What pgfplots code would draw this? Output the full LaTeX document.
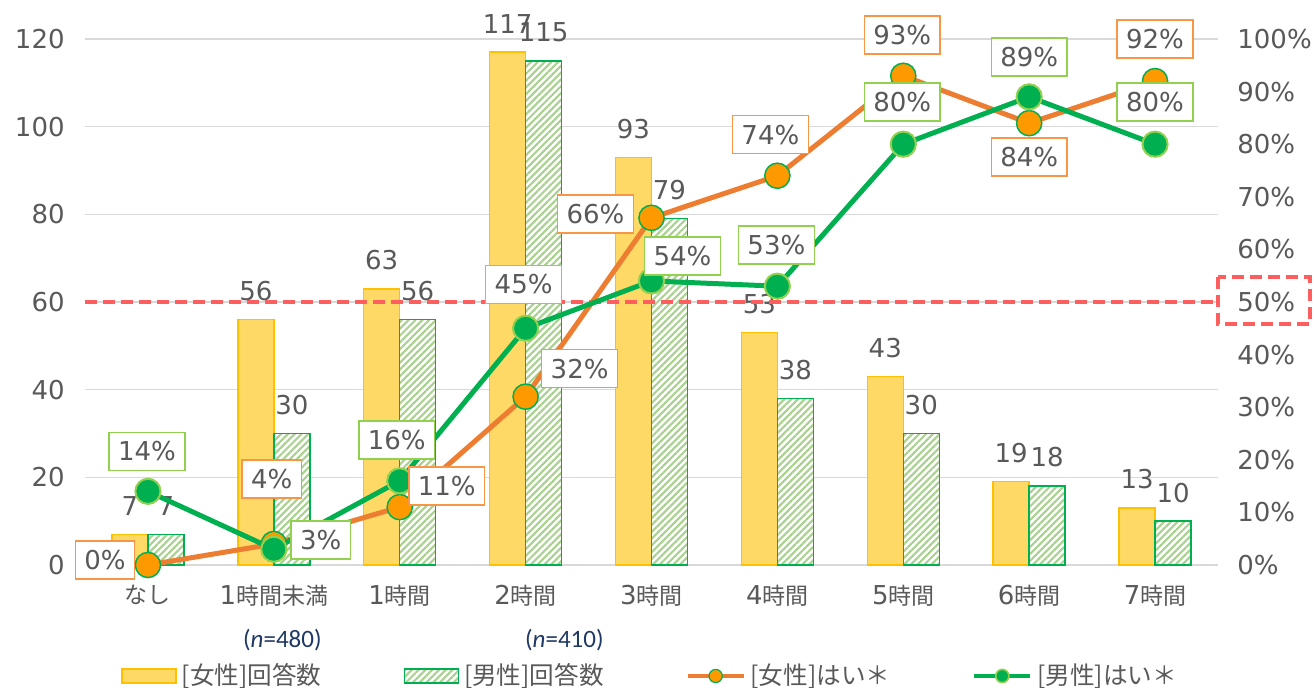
\documentclass[border=0pt]{standalone}
\usepackage{fontspec}
\setmainfont{DejaVu Sans}
\newfontfamily\jp{Noto Sans CJK JP}
\newfontfamily\calfont{Carlito}
\usepackage{pgfplots}
\usepackage{pgfplotstable}
\pgfplotsset{compat=1.18}
\usetikzlibrary{patterns.meta}

\definecolor{txt}{HTML}{595959}
\definecolor{gridc}{HTML}{D9D9D9}
\definecolor{fbar}{HTML}{FFD966}
\definecolor{fbarline}{HTML}{FFC000}
\definecolor{mbarline}{HTML}{00B050}
\definecolor{mhatch}{HTML}{A9D18E}
\definecolor{fline}{HTML}{ED7D31}
\definecolor{fmark}{HTML}{FF9900}
\definecolor{mline}{HTML}{00B050}
\definecolor{mmarkedge}{HTML}{92D050}
\definecolor{fboxc}{HTML}{F79646}
\definecolor{mboxc}{HTML}{92D050}
\definecolor{redref}{HTML}{FF5E5E}
\definecolor{navy}{HTML}{1F3864}

\newcommand\fs{\fontsize{13}{15}\selectfont}
\newcommand\J[1]{{\jp\fontsize{11.5}{14}\selectfont #1}}
\newcommand\JL[1]{{\jp\fontsize{12.3}{14}\selectfont #1}}

\pgfplotstableread{
x f m
0 7 7
1 56 30
2 63 56
3 117 115
4 93 79
5 53 38
6 43 30
7 19 18
8 13 10
}\bars

\pgfplotstableread{
x y dx dy
0 0 -21.5 2.5
1 4 -1 32.5
2 11 23.5 10.5
3 32 27 14
4 66 -28 2
5 74 -3.5 20.5
6 93 -0.5 20.5
7 84 0 -17
8 92 0 21
}\fpct

\pgfplotstableread{
x y dx dy
0 14 -0.5 20
1 3 23.5 4.5
2 16 -1.5 20.5
3 45 -1 22
4 54 15.5 12.5
5 53 -0.5 20.5
6 80 -0.5 21
7 89 0 20
8 80 0 21
}\mpct

\begin{document}
\begin{tikzpicture}[font=\fs, text=txt]
\useasboundingbox (0,0) rectangle (657pt,344pt);
% ---------- bars (left axis) ----------
\begin{axis}[
  at={(42.5pt,61.5pt)}, anchor=south west,
  width=566.5pt, height=263pt, scale only axis,
  xmin=-0.5, xmax=8.5, ymin=0, ymax=120,
  ytick={0,20,...,120},
  xtick={0,...,8},
  xticklabels={\J{なし},1\J{時間未満},1\J{時間},2\J{時間},3\J{時間},4\J{時間},5\J{時間},6\J{時間},7\J{時間}},
  ymajorgrids, grid style={gridc, line width=0.75pt},
  axis line style={draw=none},
  major tick length=0pt,
  tick label style={font=\fs, text=txt},
  yticklabel style={inner sep=0pt},
  yticklabel shift=10pt,
  xticklabel style={inner sep=0pt, anchor=north},
  xticklabel shift=10pt,
  /pgf/number format/assume math mode=true,
  ybar=0pt, bar width=18pt,
  clip=false,
  nodes near coords,
  every node near coord/.append style={font=\fs, text=txt, inner sep=0pt, yshift=9pt, anchor=south},
]
\addplot[fill=fbar, draw=fbarline, line width=0.75pt] table[x=x,y=f]{\bars};
\addplot[fill=white, draw=mbarline, line width=0.75pt,
  postaction={pattern={Lines[angle=45,distance=2.4pt,line width=1.05pt]}, pattern color=mhatch}]
  table[x=x,y=m]{\bars};
\end{axis}
% ---------- lines (right axis) ----------
\begin{axis}[
  at={(42.5pt,61.5pt)}, anchor=south west,
  width=566.5pt, height=263pt, scale only axis,
  xmin=-0.5, xmax=8.5, ymin=0, ymax=100,
  axis y line*=right, axis x line=none,
  ytick={0,10,...,100},
  yticklabel={\pgfmathprintnumber{\tick}\%},
  axis line style={draw=none},
  major tick length=0pt,
  tick label style={font=\fs, text=txt},
  yticklabel style={inner sep=0pt, anchor=west},
  yticklabel shift=9.5pt,
  /pgf/number format/assume math mode=true,
  clip=false,
  legend columns=4,
  legend style={at={(0.0318,-0.211)}, anchor=west, draw=none, fill=none, inner sep=0pt,
    nodes={inner sep=0pt, inner xsep=2.5pt, text=txt},
    /tikz/every even column/.append style={column sep=38.5pt}},
  legend cell align=left,
]
\addlegendimage{legend image code/.code={\draw[fill=fbar, draw=fbarline, line width=0.75pt] (0pt,-3.5pt) rectangle (27pt,3.5pt);}}
\addlegendentry{\JL{[女性]回答数}}
\addlegendimage{legend image code/.code={\draw[fill=white, draw=mbarline, line width=0.75pt, postaction={pattern={Lines[angle=45,distance=2.4pt,line width=1.05pt]}, pattern color=mhatch}] (0pt,-3.5pt) rectangle (27pt,3.5pt);}}
\addlegendentry{\JL{[男性]回答数}}

\addplot[forget plot, draw=redref, line width=2pt, dash pattern=on 6pt off 3pt] coordinates {(-0.5,50) (8.5,50)};

\addplot[fline, line width=2.5pt, mark=*, mark size=6.3pt,
  mark options={fill=fmark, draw=mline, line width=0.75pt},
  legend image code/.code={\draw[fline, line width=2pt] (0pt,0pt) -- (28pt,0pt); \draw[fill=fmark, draw=mline, line width=0.6pt] (14pt,0pt) circle (3.3pt);}]
  table[x=x,y=y]{\fpct};
\addlegendentry{\JL{[女性]はい＊}}
\addplot[mline, line width=2.5pt, mark=*, mark size=6.3pt,
  mark options={fill=mline, draw=mmarkedge, line width=1pt},
  legend image code/.code={\draw[mline, line width=2pt] (0pt,0pt) -- (28pt,0pt); \draw[fill=mline, draw=mmarkedge, line width=0.8pt] (14pt,0pt) circle (3.3pt);}]
  table[x=x,y=y]{\mpct};
\addlegendentry{\JL{[男性]はい＊}}

% labels
\addplot[forget plot, draw=none, mark=none, point meta=y,
  nodes near coords={\pgfmathprintnumber{\pgfplotspointmeta}\%},
  visualization depends on={\thisrow{dx}\as\lx},
  visualization depends on={\thisrow{dy}\as\ly},
  every node near coord/.append style={anchor=center, xshift={\lx*1pt}, yshift={\ly*1pt},
    draw=fboxc, line width=0.75pt, fill=white, font=\fs, text=txt,
    inner xsep=4.5pt, inner ysep=4.75pt, text height=9.5pt, text depth=0pt}]
  table[x=x,y=y]{\fpct};
\addplot[forget plot, draw=none, mark=none, point meta=y,
  nodes near coords={\pgfmathprintnumber{\pgfplotspointmeta}\%},
  visualization depends on={\thisrow{dx}\as\lx},
  visualization depends on={\thisrow{dy}\as\ly},
  every node near coord/.append style={anchor=center, xshift={\lx*1pt}, yshift={\ly*1pt},
    draw=mboxc, line width=0.75pt, fill=white, font=\fs, text=txt,
    inner xsep=4.5pt, inner ysep=4.75pt, text height=9.5pt, text depth=0pt}]
  table[x=x,y=y]{\mpct};
\end{axis}
% 50% highlight box
\draw[redref, line width=2pt, dash pattern=on 6pt off 3pt] (609pt,205.5pt) rectangle (655pt,182pt);
% n labels
\node[anchor=east, inner sep=0pt, text=navy, font=\calfont\fontsize{12.5}{14}\selectfont] at (161pt,24pt) {(\textit{n}=480)};
\node[anchor=east, inner sep=0pt, text=navy, font=\calfont\fontsize{12.5}{14}\selectfont] at (302pt,24pt) {(\textit{n}=410)};
\end{tikzpicture}
\end{document}
